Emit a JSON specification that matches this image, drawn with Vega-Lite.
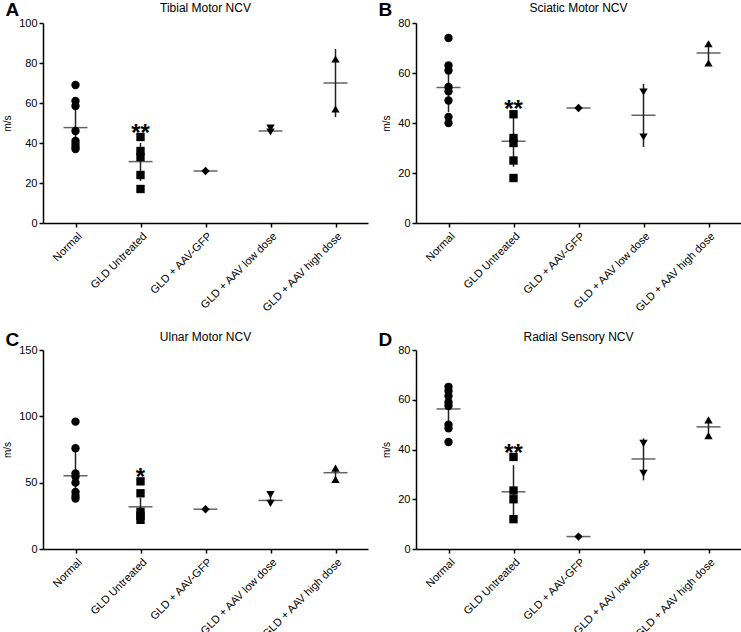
{
  "$schema": "https://vega.github.io/schema/vega-lite/v6.json",
  "padding": {"left": 2, "top": 1, "right": 0, "bottom": 0},
  "config": {
    "view": {"stroke": null},
    "font": "Liberation Sans",
    "axis": {"domainColor": "black", "domainWidth": 1.5, "tickColor": "black", "tickWidth": 1.5, "tickSize": 4, "labelColor": "black", "titleColor": "black", "grid": false, "labelFont": "Liberation Sans", "titleFont": "Liberation Sans", "labelOverlap": false},
    "axisX": {"labelAngle": -45, "labelFontSize": 11, "title": null, "labelPadding": 3},
    "axisY": {"labelFontSize": 11, "titleFontSize": 10, "titleFontWeight": "normal", "labelPadding": 2, "titlePadding": 6}
  },
  "datasets": {
    "points": [
      {"panel": "A", "group": "Normal", "v": 69}, {"panel": "A", "group": "Normal", "v": 61}, {"panel": "A", "group": "Normal", "v": 58.5}, {"panel": "A", "group": "Normal", "v": 46}, {"panel": "A", "group": "Normal", "v": 41}, {"panel": "A", "group": "Normal", "v": 39.5}, {"panel": "A", "group": "Normal", "v": 38}, {"panel": "A", "group": "Normal", "v": 37},
      {"panel": "A", "group": "GLD Untreated", "v": 43}, {"panel": "A", "group": "GLD Untreated", "v": 36}, {"panel": "A", "group": "GLD Untreated", "v": 33}, {"panel": "A", "group": "GLD Untreated", "v": 24}, {"panel": "A", "group": "GLD Untreated", "v": 17},
      {"panel": "A", "group": "GLD + AAV-GFP", "v": 26},
      {"panel": "A", "group": "GLD + AAV low dose", "v": 47.5}, {"panel": "A", "group": "GLD + AAV low dose", "v": 45.5},
      {"panel": "A", "group": "GLD + AAV high dose", "v": 82}, {"panel": "A", "group": "GLD + AAV high dose", "v": 57},
      {"panel": "B", "group": "Normal", "v": 74}, {"panel": "B", "group": "Normal", "v": 63}, {"panel": "B", "group": "Normal", "v": 61}, {"panel": "B", "group": "Normal", "v": 54.4}, {"panel": "B", "group": "Normal", "v": 52.7}, {"panel": "B", "group": "Normal", "v": 49}, {"panel": "B", "group": "Normal", "v": 42.4}, {"panel": "B", "group": "Normal", "v": 40},
      {"panel": "B", "group": "GLD Untreated", "v": 43.5}, {"panel": "B", "group": "GLD Untreated", "v": 34}, {"panel": "B", "group": "GLD Untreated", "v": 32}, {"panel": "B", "group": "GLD Untreated", "v": 25}, {"panel": "B", "group": "GLD Untreated", "v": 18},
      {"panel": "B", "group": "GLD + AAV-GFP", "v": 46},
      {"panel": "B", "group": "GLD + AAV low dose", "v": 52.4}, {"panel": "B", "group": "GLD + AAV low dose", "v": 34.4},
      {"panel": "B", "group": "GLD + AAV high dose", "v": 71.7}, {"panel": "B", "group": "GLD + AAV high dose", "v": 64},
      {"panel": "C", "group": "Normal", "v": 96}, {"panel": "C", "group": "Normal", "v": 76}, {"panel": "C", "group": "Normal", "v": 57}, {"panel": "C", "group": "Normal", "v": 54.5}, {"panel": "C", "group": "Normal", "v": 50}, {"panel": "C", "group": "Normal", "v": 43}, {"panel": "C", "group": "Normal", "v": 40}, {"panel": "C", "group": "Normal", "v": 38},
      {"panel": "C", "group": "GLD Untreated", "v": 51}, {"panel": "C", "group": "GLD Untreated", "v": 42}, {"panel": "C", "group": "GLD Untreated", "v": 28}, {"panel": "C", "group": "GLD Untreated", "v": 25}, {"panel": "C", "group": "GLD Untreated", "v": 22},
      {"panel": "C", "group": "GLD + AAV-GFP", "v": 30},
      {"panel": "C", "group": "GLD + AAV low dose", "v": 41}, {"panel": "C", "group": "GLD + AAV low dose", "v": 34.3},
      {"panel": "C", "group": "GLD + AAV high dose", "v": 61}, {"panel": "C", "group": "GLD + AAV high dose", "v": 52.5},
      {"panel": "D", "group": "Normal", "v": 65.2}, {"panel": "D", "group": "Normal", "v": 63.5}, {"panel": "D", "group": "Normal", "v": 61.5}, {"panel": "D", "group": "Normal", "v": 59}, {"panel": "D", "group": "Normal", "v": 57.5}, {"panel": "D", "group": "Normal", "v": 50}, {"panel": "D", "group": "Normal", "v": 48.5}, {"panel": "D", "group": "Normal", "v": 43},
      {"panel": "D", "group": "GLD Untreated", "v": 37}, {"panel": "D", "group": "GLD Untreated", "v": 23.5}, {"panel": "D", "group": "GLD Untreated", "v": 20}, {"panel": "D", "group": "GLD Untreated", "v": 12},
      {"panel": "D", "group": "GLD + AAV-GFP", "v": 5},
      {"panel": "D", "group": "GLD + AAV low dose", "v": 42.5}, {"panel": "D", "group": "GLD + AAV low dose", "v": 30.4},
      {"panel": "D", "group": "GLD + AAV high dose", "v": 51.9}, {"panel": "D", "group": "GLD + AAV high dose", "v": 45.6}
    ],
    "summary": [
      {"panel": "A", "group": "Normal", "mean": 47.7, "lo": 36.5, "hi": 59},
      {"panel": "A", "group": "GLD Untreated", "mean": 30.7, "lo": 21, "hi": 40},
      {"panel": "A", "group": "GLD + AAV-GFP", "mean": 26, "lo": 26, "hi": 26},
      {"panel": "A", "group": "GLD + AAV low dose", "mean": 46, "lo": 45, "hi": 47.5},
      {"panel": "A", "group": "GLD + AAV high dose", "mean": 70, "lo": 53, "hi": 87},
      {"panel": "B", "group": "Normal", "mean": 54.2, "lo": 44.4, "hi": 63},
      {"panel": "B", "group": "GLD Untreated", "mean": 32.7, "lo": 22.5, "hi": 44},
      {"panel": "B", "group": "GLD + AAV-GFP", "mean": 46, "lo": 46, "hi": 46},
      {"panel": "B", "group": "GLD + AAV low dose", "mean": 43.1, "lo": 30.4, "hi": 55.7},
      {"panel": "B", "group": "GLD + AAV high dose", "mean": 68, "lo": 63.5, "hi": 72.5},
      {"panel": "C", "group": "Normal", "mean": 55.2, "lo": 36.5, "hi": 74},
      {"panel": "C", "group": "GLD Untreated", "mean": 31.8, "lo": 25, "hi": 38.6},
      {"panel": "C", "group": "GLD + AAV-GFP", "mean": 30, "lo": 30, "hi": 30},
      {"panel": "C", "group": "GLD + AAV low dose", "mean": 36.6, "lo": 34, "hi": 40},
      {"panel": "C", "group": "GLD + AAV high dose", "mean": 57.5, "lo": 53, "hi": 62},
      {"panel": "D", "group": "Normal", "mean": 56.3, "lo": 50.1, "hi": 62.5},
      {"panel": "D", "group": "GLD Untreated", "mean": 23, "lo": 12.3, "hi": 33.7},
      {"panel": "D", "group": "GLD + AAV-GFP", "mean": 5, "lo": 5, "hi": 5},
      {"panel": "D", "group": "GLD + AAV low dose", "mean": 36.2, "lo": 27.6, "hi": 44.5},
      {"panel": "D", "group": "GLD + AAV high dose", "mean": 49.1, "lo": 46, "hi": 52}
    ],
    "annot": [
      {"panel": "A", "group": "GLD Untreated", "v": 48, "label": "**"},
      {"panel": "B", "group": "GLD Untreated", "v": 48, "label": "**"},
      {"panel": "C", "group": "GLD Untreated", "v": 59, "label": "*"},
      {"panel": "D", "group": "GLD Untreated", "v": 41, "label": "**"}
    ],
    "letters": [
      {"panel": "A", "group": "Normal", "v": 100, "label": "A"},
      {"panel": "B", "group": "Normal", "v": 80, "label": "B"},
      {"panel": "C", "group": "Normal", "v": 150, "label": "C"},
      {"panel": "D", "group": "Normal", "v": 80, "label": "D"}
    ],
    "headings": [
      {"panel": "A", "group": "GLD + AAV-GFP", "v": 100, "label": "Tibial Motor NCV"},
      {"panel": "B", "group": "GLD + AAV-GFP", "v": 80, "label": "Sciatic Motor NCV"},
      {"panel": "C", "group": "GLD + AAV-GFP", "v": 150, "label": "Ulnar Motor NCV"},
      {"panel": "D", "group": "GLD + AAV-GFP", "v": 80, "label": "Radial Sensory NCV"}
    ]
  },
  "columns": 2,
  "spacing": {"column": 10, "row": 17},
  "concat": [
    {
      "width": 325, "height": 200,
      "encoding": {
        "x": {"field": "group", "type": "nominal", "sort": null, "scale": {"type": "point", "padding": 0.5, "domain": ["Normal", "GLD Untreated", "GLD + AAV-GFP", "GLD + AAV low dose", "GLD + AAV high dose"]}}
      },
      "layer": [
        {"data": {"name": "summary"}, "transform": [{"filter": "datum.panel === 'A'"}], "mark": {"type": "rule", "color": "#222", "strokeWidth": 1.5},
         "encoding": {"y": {"field": "lo", "type": "quantitative", "scale": {"domain": [0, 100], "nice": false}, "axis": {"values": [0, 20, 40, 60, 80, 100], "tickCount": 6, "labelOverlap": false, "title": "m/s"}}, "y2": {"field": "hi"}}},
        {"data": {"name": "summary"}, "transform": [{"filter": "datum.panel === 'A'"}], "mark": {"type": "tick", "color": "#222", "size": 24, "thickness": 1.5},
         "encoding": {"y": {"field": "mean", "type": "quantitative"}}},
        {"data": {"name": "points"}, "transform": [{"filter": "datum.panel === 'A'"}], "mark": {"type": "point", "filled": true, "opacity": 1, "color": "black", "size": 70},
         "encoding": {"y": {"field": "v", "type": "quantitative"},
           "shape": {"field": "group", "type": "nominal", "legend": null, "scale": {"domain": ["Normal", "GLD Untreated", "GLD + AAV-GFP", "GLD + AAV low dose", "GLD + AAV high dose"], "range": ["circle", "square", "diamond", "triangle-down", "triangle-up"]}}}},
        {"data": {"name": "annot"}, "transform": [{"filter": "datum.panel === 'A'"}], "mark": {"type": "text", "fontSize": 24, "fontWeight": "bold", "baseline": "alphabetic", "dy": 14, "color": "black"},
         "encoding": {"y": {"field": "v", "type": "quantitative"}, "text": {"field": "label"}}},
        {"data": {"name": "letters"}, "transform": [{"filter": "datum.panel === 'A'"}], "mark": {"type": "text", "fontSize": 19, "fontWeight": "bold", "align": "left", "baseline": "alphabetic", "dx": -70, "dy": -7, "color": "black"},
         "encoding": {"y": {"field": "v", "type": "quantitative"}, "text": {"field": "label"}}},
        {"data": {"name": "headings"}, "transform": [{"filter": "datum.panel === 'A'"}], "mark": {"type": "text", "fontSize": 12, "align": "center", "baseline": "middle", "dy": -15, "color": "black"},
         "encoding": {"y": {"field": "v", "type": "quantitative"}, "text": {"field": "label"}}}
      ]
    },
    {
      "width": 325, "height": 200,
      "encoding": {
        "x": {"field": "group", "type": "nominal", "sort": null, "scale": {"type": "point", "padding": 0.5, "domain": ["Normal", "GLD Untreated", "GLD + AAV-GFP", "GLD + AAV low dose", "GLD + AAV high dose"]}}
      },
      "layer": [
        {"data": {"name": "summary"}, "transform": [{"filter": "datum.panel === 'B'"}], "mark": {"type": "rule", "color": "#222", "strokeWidth": 1.5},
         "encoding": {"y": {"field": "lo", "type": "quantitative", "scale": {"domain": [0, 80], "nice": false}, "axis": {"values": [0, 20, 40, 60, 80], "tickCount": 5, "labelOverlap": false, "title": "m/s"}}, "y2": {"field": "hi"}}},
        {"data": {"name": "summary"}, "transform": [{"filter": "datum.panel === 'B'"}], "mark": {"type": "tick", "color": "#222", "size": 24, "thickness": 1.5},
         "encoding": {"y": {"field": "mean", "type": "quantitative"}}},
        {"data": {"name": "points"}, "transform": [{"filter": "datum.panel === 'B'"}], "mark": {"type": "point", "filled": true, "opacity": 1, "color": "black", "size": 70},
         "encoding": {"y": {"field": "v", "type": "quantitative"},
           "shape": {"field": "group", "type": "nominal", "legend": null, "scale": {"domain": ["Normal", "GLD Untreated", "GLD + AAV-GFP", "GLD + AAV low dose", "GLD + AAV high dose"], "range": ["circle", "square", "diamond", "triangle-down", "triangle-up"]}}}},
        {"data": {"name": "annot"}, "transform": [{"filter": "datum.panel === 'B'"}], "mark": {"type": "text", "fontSize": 24, "fontWeight": "bold", "baseline": "alphabetic", "dy": 14, "color": "black"},
         "encoding": {"y": {"field": "v", "type": "quantitative"}, "text": {"field": "label"}}},
        {"data": {"name": "letters"}, "transform": [{"filter": "datum.panel === 'B'"}], "mark": {"type": "text", "fontSize": 19, "fontWeight": "bold", "align": "left", "baseline": "alphabetic", "dx": -70, "dy": -7, "color": "black"},
         "encoding": {"y": {"field": "v", "type": "quantitative"}, "text": {"field": "label"}}},
        {"data": {"name": "headings"}, "transform": [{"filter": "datum.panel === 'B'"}], "mark": {"type": "text", "fontSize": 12, "align": "center", "baseline": "middle", "dy": -15, "color": "black"},
         "encoding": {"y": {"field": "v", "type": "quantitative"}, "text": {"field": "label"}}}
      ]
    },
    {
      "width": 325, "height": 199,
      "encoding": {
        "x": {"field": "group", "type": "nominal", "sort": null, "scale": {"type": "point", "padding": 0.5, "domain": ["Normal", "GLD Untreated", "GLD + AAV-GFP", "GLD + AAV low dose", "GLD + AAV high dose"]}}
      },
      "layer": [
        {"data": {"name": "summary"}, "transform": [{"filter": "datum.panel === 'C'"}], "mark": {"type": "rule", "color": "#222", "strokeWidth": 1.5},
         "encoding": {"y": {"field": "lo", "type": "quantitative", "scale": {"domain": [0, 150], "nice": false}, "axis": {"values": [0, 50, 100, 150], "tickCount": 4, "labelOverlap": false, "title": "m/s"}}, "y2": {"field": "hi"}}},
        {"data": {"name": "summary"}, "transform": [{"filter": "datum.panel === 'C'"}], "mark": {"type": "tick", "color": "#222", "size": 24, "thickness": 1.5},
         "encoding": {"y": {"field": "mean", "type": "quantitative"}}},
        {"data": {"name": "points"}, "transform": [{"filter": "datum.panel === 'C'"}], "mark": {"type": "point", "filled": true, "opacity": 1, "color": "black", "size": 70},
         "encoding": {"y": {"field": "v", "type": "quantitative"},
           "shape": {"field": "group", "type": "nominal", "legend": null, "scale": {"domain": ["Normal", "GLD Untreated", "GLD + AAV-GFP", "GLD + AAV low dose", "GLD + AAV high dose"], "range": ["circle", "square", "diamond", "triangle-down", "triangle-up"]}}}},
        {"data": {"name": "annot"}, "transform": [{"filter": "datum.panel === 'C'"}], "mark": {"type": "text", "fontSize": 24, "fontWeight": "bold", "baseline": "alphabetic", "dy": 14, "color": "black"},
         "encoding": {"y": {"field": "v", "type": "quantitative"}, "text": {"field": "label"}}},
        {"data": {"name": "letters"}, "transform": [{"filter": "datum.panel === 'C'"}], "mark": {"type": "text", "fontSize": 19, "fontWeight": "bold", "align": "left", "baseline": "alphabetic", "dx": -70, "dy": -4, "color": "black"},
         "encoding": {"y": {"field": "v", "type": "quantitative"}, "text": {"field": "label"}}},
        {"data": {"name": "headings"}, "transform": [{"filter": "datum.panel === 'C'"}], "mark": {"type": "text", "fontSize": 12, "align": "center", "baseline": "middle", "dy": -13, "color": "black"},
         "encoding": {"y": {"field": "v", "type": "quantitative"}, "text": {"field": "label"}}}
      ]
    },
    {
      "width": 325, "height": 199,
      "encoding": {
        "x": {"field": "group", "type": "nominal", "sort": null, "scale": {"type": "point", "padding": 0.5, "domain": ["Normal", "GLD Untreated", "GLD + AAV-GFP", "GLD + AAV low dose", "GLD + AAV high dose"]}}
      },
      "layer": [
        {"data": {"name": "summary"}, "transform": [{"filter": "datum.panel === 'D'"}], "mark": {"type": "rule", "color": "#222", "strokeWidth": 1.5},
         "encoding": {"y": {"field": "lo", "type": "quantitative", "scale": {"domain": [0, 80], "nice": false}, "axis": {"values": [0, 20, 40, 60, 80], "tickCount": 5, "labelOverlap": false, "title": "m/s"}}, "y2": {"field": "hi"}}},
        {"data": {"name": "summary"}, "transform": [{"filter": "datum.panel === 'D'"}], "mark": {"type": "tick", "color": "#222", "size": 24, "thickness": 1.5},
         "encoding": {"y": {"field": "mean", "type": "quantitative"}}},
        {"data": {"name": "points"}, "transform": [{"filter": "datum.panel === 'D'"}], "mark": {"type": "point", "filled": true, "opacity": 1, "color": "black", "size": 70},
         "encoding": {"y": {"field": "v", "type": "quantitative"},
           "shape": {"field": "group", "type": "nominal", "legend": null, "scale": {"domain": ["Normal", "GLD Untreated", "GLD + AAV-GFP", "GLD + AAV low dose", "GLD + AAV high dose"], "range": ["circle", "square", "diamond", "triangle-down", "triangle-up"]}}}},
        {"data": {"name": "annot"}, "transform": [{"filter": "datum.panel === 'D'"}], "mark": {"type": "text", "fontSize": 24, "fontWeight": "bold", "baseline": "alphabetic", "dy": 14, "color": "black"},
         "encoding": {"y": {"field": "v", "type": "quantitative"}, "text": {"field": "label"}}},
        {"data": {"name": "letters"}, "transform": [{"filter": "datum.panel === 'D'"}], "mark": {"type": "text", "fontSize": 19, "fontWeight": "bold", "align": "left", "baseline": "alphabetic", "dx": -70, "dy": -4, "color": "black"},
         "encoding": {"y": {"field": "v", "type": "quantitative"}, "text": {"field": "label"}}},
        {"data": {"name": "headings"}, "transform": [{"filter": "datum.panel === 'D'"}], "mark": {"type": "text", "fontSize": 12, "align": "center", "baseline": "middle", "dy": -13, "color": "black"},
         "encoding": {"y": {"field": "v", "type": "quantitative"}, "text": {"field": "label"}}}
      ]
    }
  ]
}
